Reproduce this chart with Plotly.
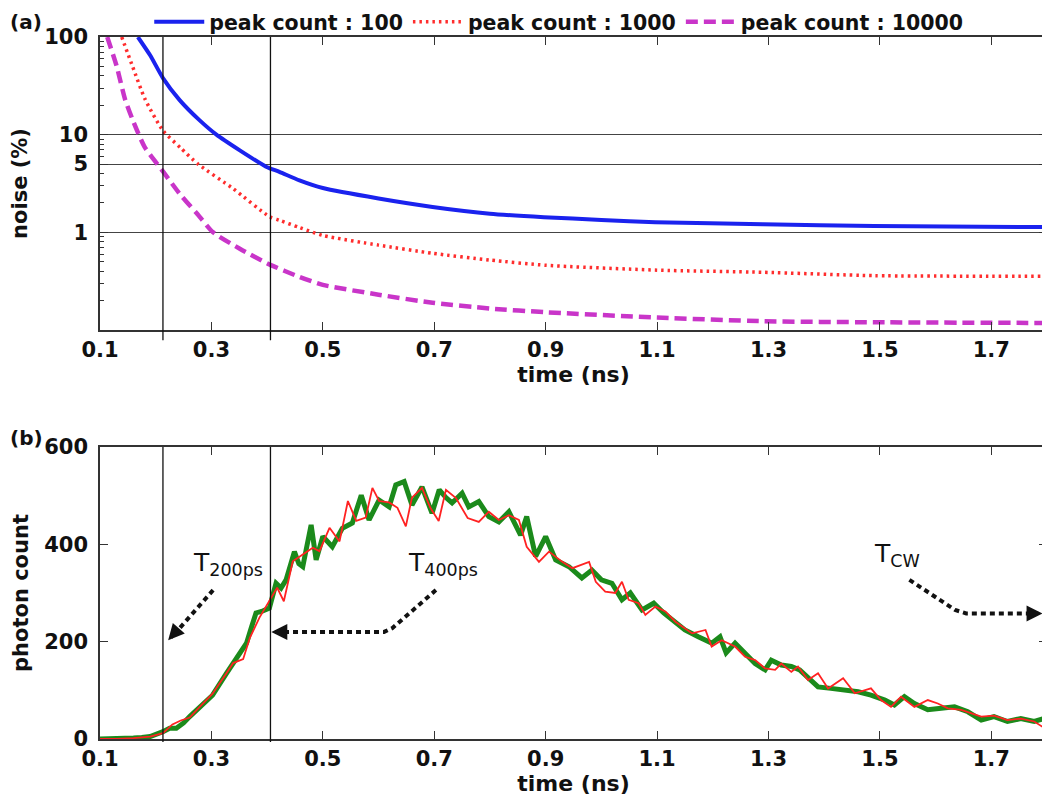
import plotly.graph_objects as go

# ---------------- panel (a): noise (%) vs time (ns) ----------------
t_pc100 = [0.168, 0.19, 0.213, 0.243, 0.279, 0.309, 0.351, 0.398, 0.422, 0.458, 0.5,
           0.6, 0.697, 0.8, 0.897, 1.0, 1.097, 1.29, 1.49, 1.8]
noise_pc100 = [100, 65, 38, 22.6, 14, 10, 6.9, 4.7, 4.16, 3.4, 2.84,
               2.22, 1.82, 1.55, 1.43, 1.34, 1.27, 1.21, 1.16, 1.13]

t_pc1000 = [0.139, 0.159, 0.181, 0.213, 0.245, 0.276, 0.339, 0.404, 0.422, 0.458, 0.5,
            0.6, 0.697, 0.8, 0.9, 1.1, 1.29, 1.49, 1.8]
noise_pc1000 = [100, 49, 23, 11, 7.3, 5.0, 2.8, 1.45, 1.33, 1.12, 0.93,
                0.74, 0.61, 0.52, 0.46, 0.41, 0.39, 0.36, 0.355]

t_pc10000 = [0.113, 0.13, 0.145, 0.159, 0.18, 0.213, 0.245, 0.274, 0.303, 0.351, 0.404,
             0.458, 0.5, 0.6, 0.697, 0.8, 0.9, 1.1, 1.29, 1.49, 1.8]
noise_pc10000 = [100, 50, 23, 14, 7.5, 4.2, 2.4, 1.56, 1.0, 0.68, 0.47,
                 0.35, 0.29, 0.23, 0.19, 0.166, 0.152, 0.134, 0.123, 0.12, 0.118]

series_names = ["peak count : 100", "peak count : 1000", "peak count : 10000"]

# ---------------- panel (b): photon count vs time (ns) ----------------
t_green = [0.10, 0.12, 0.14, 0.16, 0.175, 0.19, 0.213, 0.225, 0.237, 0.25, 0.261, 0.279,
           0.302, 0.327, 0.345, 0.363, 0.372, 0.38, 0.39, 0.404, 0.416, 0.425, 0.434,
           0.449, 0.457, 0.464, 0.479, 0.488, 0.5, 0.517, 0.535, 0.553, 0.569, 0.583,
           0.601, 0.619, 0.631, 0.646, 0.66, 0.678, 0.696, 0.709, 0.721, 0.732, 0.75,
           0.762, 0.78, 0.798, 0.816, 0.834, 0.855, 0.866, 0.882, 0.9, 0.918, 0.942,
           0.965, 0.983, 1.0, 1.019, 1.037, 1.052, 1.073, 1.094, 1.112, 1.133, 1.15,
           1.174, 1.198, 1.213, 1.224, 1.24, 1.258, 1.276, 1.294, 1.305, 1.323, 1.341,
           1.356, 1.371, 1.389, 1.412, 1.437, 1.461, 1.484, 1.509, 1.526, 1.544, 1.562,
           1.586, 1.61, 1.634, 1.658, 1.682, 1.705, 1.729, 1.753, 1.777, 1.795]
count_green = [0, 0, 1, 2, 3, 5, 15, 22, 22, 33, 46, 66,
               90, 135, 166, 197, 230, 259, 262, 269, 320, 310, 327,
               385, 360, 354, 440, 368, 416, 395, 433, 444, 501, 450,
               491, 477, 522, 529, 481, 518, 464, 512, 496, 485, 505,
               477, 488, 457, 446, 467, 419, 457, 375, 416, 368, 354,
               331, 347, 327, 320, 286, 300, 265, 279, 259, 238, 224,
               210, 197, 210, 177, 197, 177, 155, 142, 162, 152, 149,
               142, 125, 107, 104, 101, 97, 90, 80, 70, 87, 73,
               60, 63, 66, 56, 39, 46, 36, 42, 36, 42]

t_red = [0.10, 0.13, 0.16, 0.18, 0.19, 0.213, 0.23, 0.245, 0.261, 0.279, 0.302, 0.327,
         0.339, 0.357, 0.369, 0.386, 0.404, 0.418, 0.43, 0.446, 0.464, 0.482, 0.494,
         0.512, 0.53, 0.545, 0.56, 0.577, 0.589, 0.601, 0.619, 0.634, 0.649, 0.66,
         0.678, 0.693, 0.708, 0.721, 0.739, 0.76, 0.78, 0.798, 0.816, 0.834, 0.852,
         0.866, 0.888, 0.906, 0.93, 0.948, 0.978, 0.99, 1.007, 1.025, 1.037, 1.049,
         1.067, 1.079, 1.097, 1.115, 1.133, 1.163, 1.187, 1.198, 1.216, 1.24, 1.258,
         1.276, 1.294, 1.312, 1.323, 1.341, 1.353, 1.371, 1.389, 1.407, 1.434, 1.455,
         1.484, 1.502, 1.52, 1.538, 1.562, 1.586, 1.604, 1.622, 1.646, 1.682, 1.705,
         1.729, 1.753, 1.777, 1.792]
count_red = [0, 0, 2, 4, 5, 12, 30, 38, 44, 66, 93, 135,
             156, 164, 208, 249, 283, 311, 283, 365, 379, 393, 386,
             434, 406, 489, 448, 455, 516, 489, 486, 475, 437, 496,
             516, 475, 448, 512, 495, 454, 446, 467, 450, 460, 450,
             395, 364, 385, 364, 351, 364, 323, 303, 300, 323, 286,
             279, 255, 272, 262, 241, 217, 224, 190, 203, 190, 169,
             162, 145, 142, 155, 138, 149, 121, 135, 104, 125, 94,
             104, 80, 66, 87, 66, 80, 73, 63, 60, 46, 48,
             39, 42, 36, 25]

# reference time markers (ns)
marker_times = [0.213, 0.406]

# tick labels
x_tickvals = [0.1, 0.3, 0.5, 0.7, 0.9, 1.1, 1.3, 1.5, 1.7]
x_ticktext = ["0.1", "0.3", "0.5", "0.7", "0.9", "1.1", "1.3", "1.5", "1.7"]
noise_tickvals = [1, 5, 10, 100]
noise_ticktext = ["1", "5", "10", "100"]
noise_minor = [0.2, 0.3, 0.4, 0.5, 0.6, 0.7, 0.8, 0.9, 2, 3, 4, 6, 7, 8, 9,
               20, 30, 40, 50, 60, 70, 80, 90]
count_tickvals = [0, 200, 400, 600]
count_ticktext = ["0", "200", "400", "600"]

# annotation labels and their arrow paths (data coordinates of panel b)
label_texts = ["T<sub>200ps</sub>", "T<sub>400ps</sub>", "T<sub>CW</sub>"]
label_pos = [(0.264, 360), (0.650, 360), (1.486, 378)]
arrow_paths = [
    [(0.303, 306), (0.228, 208)],
    [(0.703, 306), (0.625, 228), (0.610, 220), (0.414, 220)],
    [(1.553, 327), (1.635, 265), (1.655, 258), (1.782, 258)],
]
arrow_heads = [((0.2224, 203), (8, -9)), ((0.4075, 220), (11, 0)), ((1.792, 258), (-11, 0))]

# the page body adds an 8 px offset; lay out the figure to compensate
OFFSET = 8
W, H = 1050 - OFFSET, 796 - OFFSET


def dom(top_px, bottom_px):
    return [1 - (bottom_px - OFFSET) / H, 1 - (top_px - OFFSET) / H]


FONT = "DejaVu Sans"
BLACK = "#111111"

fig = go.Figure()

fig.add_trace(go.Scatter(x=t_pc100, y=noise_pc100, name=series_names[0], mode="lines",
                         line=dict(color="#1a22ee", width=4, shape="spline", smoothing=0.6),
                         xaxis="x", yaxis="y"))
fig.add_trace(go.Scatter(x=t_pc1000, y=noise_pc1000, name=series_names[1], mode="lines",
                         line=dict(color="#ff2d2d", width=3.5, dash="2.5px,4px", shape="spline",
                                   smoothing=0.6),
                         xaxis="x", yaxis="y"))
fig.add_trace(go.Scatter(x=t_pc10000, y=noise_pc10000, name=series_names[2], mode="lines",
                         line=dict(color="#c935c9", width=4.5, dash="12px,6px", shape="spline",
                                   smoothing=0.6),
                         xaxis="x", yaxis="y"))

fig.add_trace(go.Scatter(x=t_green, y=count_green, mode="lines", showlegend=False,
                         line=dict(color="#1b8a1b", width=5), xaxis="x2", yaxis="y2"))
fig.add_trace(go.Scatter(x=t_red, y=count_red, mode="lines", showlegend=False,
                         line=dict(color="#ff2222", width=1.8), xaxis="x2", yaxis="y2"))

tickfont = dict(family=FONT, size=21, color=BLACK, weight="bold")
titlefont = dict(family=FONT, size=21, color=BLACK, weight="bold")
xtitlefont = dict(family=FONT, size=22, color=BLACK, weight="bold")

common_x = dict(range=[0.1, 1.8], tickmode="array", tickvals=x_tickvals, ticktext=x_ticktext,
                ticks="inside", ticklen=8, tickwidth=1.2, tickcolor="#333",
                showline=True, linecolor="#333", linewidth=1.5, mirror="ticks",
                showgrid=False, zeroline=False, tickfont=tickfont, automargin=False,
                ticklabelstandoff=0)

fig.update_layout(
    width=W, height=H,
    margin=dict(l=100 - OFFSET, r=3, t=0, b=0, autoexpand=False),
    paper_bgcolor="white", plot_bgcolor="white",
    font=dict(family=FONT, color=BLACK),
    xaxis=dict(common_x, domain=[0, 1], anchor="y",
               title=dict(text="time (ns)", font=xtitlefont, standoff=0)),
    yaxis=dict(type="log", range=[-1, 2], domain=dom(37, 330), anchor="x",
               tickmode="array", tickvals=noise_tickvals, ticktext=noise_ticktext,
               ticks="inside", ticklen=8, tickwidth=1.2, tickcolor="#333",
               minor=dict(tickmode="array", tickvals=noise_minor, ticks="inside",
                          ticklen=4, tickcolor="#333", showgrid=False),
               showline=True, linecolor="#333", linewidth=1.5, mirror="ticks",
               showgrid=True, gridcolor="#444", gridwidth=1.2, zeroline=False,
               tickfont=tickfont, automargin=False, ticklabelstandoff=6,
               title=dict(text="noise (%)", font=titlefont, standoff=12)),
    xaxis2=dict(common_x, domain=[0, 1], anchor="y2",
                title=dict(text="time (ns)", font=xtitlefont, standoff=0)),
    yaxis2=dict(range=[0, 600], domain=dom(447, 739), anchor="x2",
                tickmode="array", tickvals=count_tickvals, ticktext=count_ticktext,
                ticks="inside", ticklen=8, tickwidth=1.2, tickcolor="#333",
                showline=True, linecolor="#333", linewidth=1.5, mirror="ticks",
                showgrid=False, zeroline=False, tickfont=tickfont, automargin=False,
                ticklabelstandoff=6,
                title=dict(text="photon count", font=titlefont, standoff=10)),
    legend=dict(orientation="h", x=0.052, xanchor="left",
                yref="container", y=1 - 14 / H, yanchor="middle",
                font=dict(family=FONT, size=20.5, color=BLACK, weight="bold"),
                itemwidth=50, bgcolor="rgba(0,0,0,0)", tracegroupgap=0),
    showlegend=True,
)

shapes = []
for t in marker_times:
    shapes.append(dict(type="line", xref="x", yref="y domain", x0=t, x1=t, y0=-0.035, y1=1,
                       line=dict(color=BLACK, width=1.3), layer="above"))
    shapes.append(dict(type="line", xref="x2", yref="y2 domain", x0=t, x1=t, y0=-0.01, y1=1,
                       line=dict(color=BLACK, width=1.3), layer="above"))
for path in arrow_paths:
    d = "M " + " L ".join(f"{px},{py}" for px, py in path)
    shapes.append(dict(type="path", xref="x2", yref="y2", path=d,
                       line=dict(color=BLACK, width=4, dash="5px,4px")))

annotations = []
for (tx, ty), txt in zip(label_pos, label_texts):
    annotations.append(dict(xref="x2", yref="y2", x=tx, y=ty, text=txt, showarrow=False,
                            xanchor="left", yanchor="middle",
                            font=dict(family=FONT, size=25, color=BLACK)))
for (hx, hy), (ox, oy) in arrow_heads:
    annotations.append(dict(xref="x2", yref="y2", x=hx, y=hy, ax=ox, ay=oy, text="",
                            showarrow=True, arrowhead=2, arrowsize=1.0, arrowwidth=3.2,
                            arrowcolor=BLACK, standoff=0))
panel_x = -(100 - OFFSET) / (W - 100 + OFFSET - 3)
annotations.append(dict(xref="paper", yref="paper", x=panel_x,
                        y=1.0, text="(a)", showarrow=False, xanchor="left", yanchor="top",
                        font=dict(family=FONT, size=20, color=BLACK, weight="bold")))
annotations.append(dict(xref="paper", yref="paper", x=panel_x,
                        y=1 - (438 - OFFSET) / H, text="(b)", showarrow=False,
                        xanchor="left", yanchor="middle",
                        font=dict(family=FONT, size=20, color=BLACK, weight="bold")))

fig.update_layout(shapes=shapes, annotations=annotations)

fig.write_html("out.html")
